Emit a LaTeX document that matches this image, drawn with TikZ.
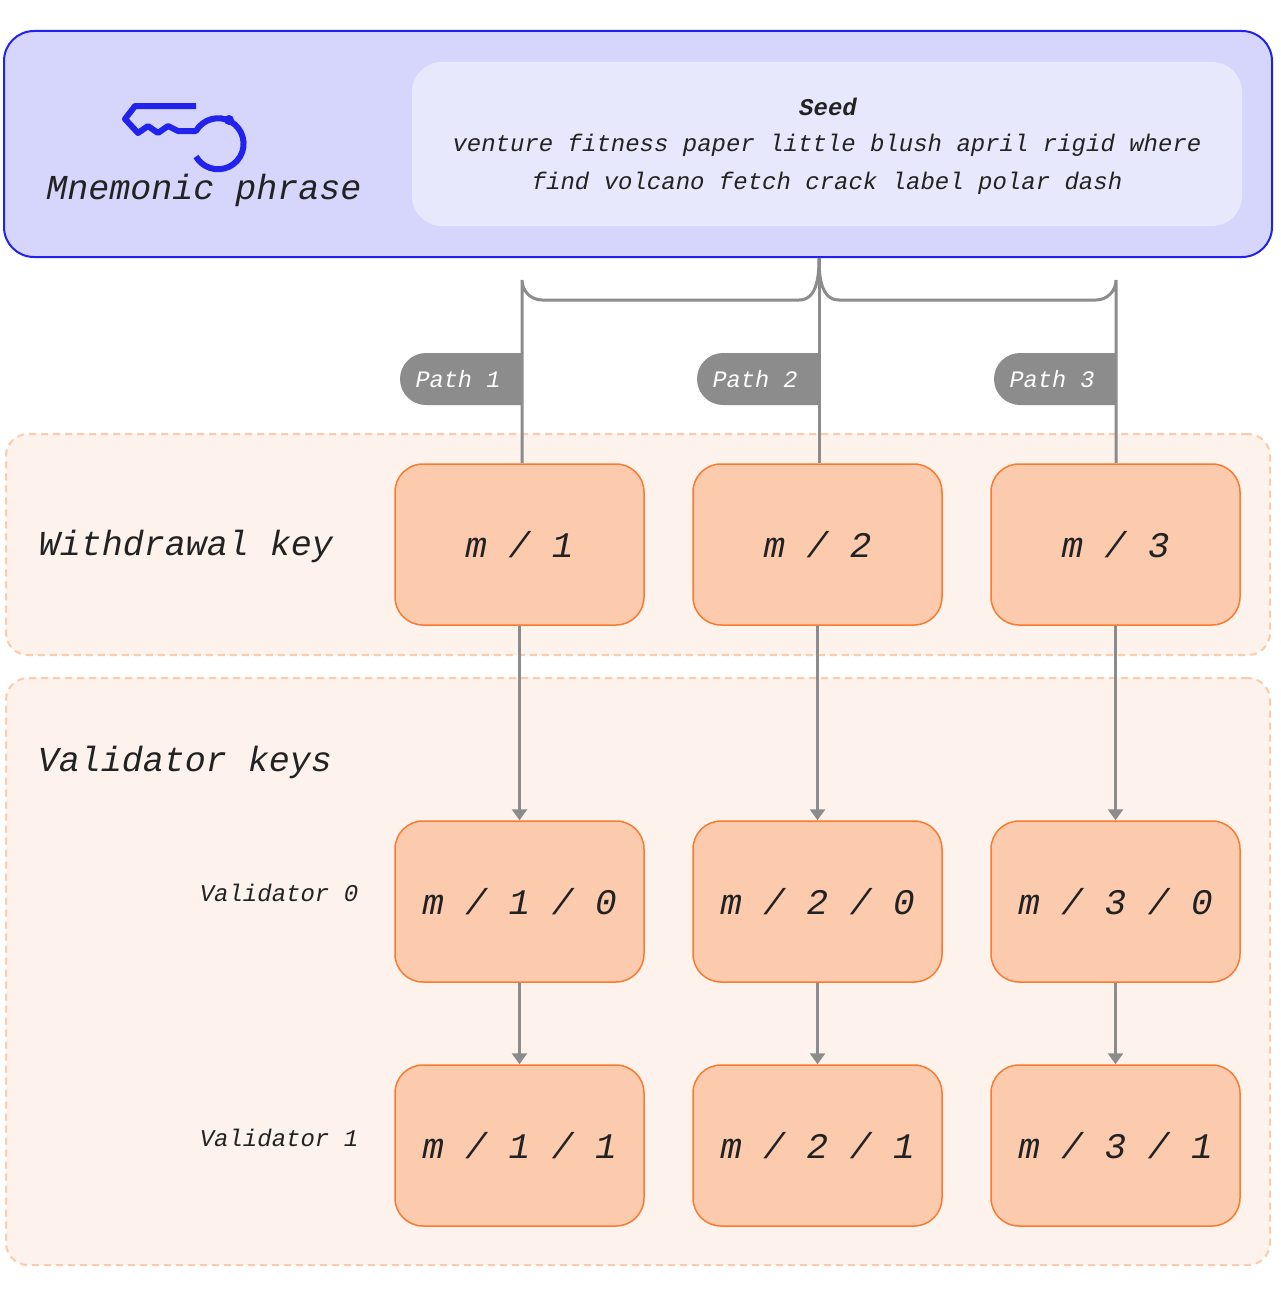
\documentclass[tikz,border=0pt]{standalone}
\usepackage{fontspec}
\setmainfont{Liberation Mono}
\usetikzlibrary{arrows.meta}
\definecolor{topfill}{HTML}{D6D6FC}
\definecolor{topdraw}{HTML}{2222EE}
\definecolor{seedfill}{HTML}{E8E8FC}
\definecolor{bandfill}{HTML}{FDF2EC}
\definecolor{banddraw}{HTML}{FCCBAA}
\definecolor{boxfill}{HTML}{FCCBAE}
\definecolor{boxdraw}{HTML}{F97B2F}
\definecolor{conn}{HTML}{8C8C8C}
\definecolor{txt}{HTML}{222222}
\tikzset{
  keybox/.style={draw=boxdraw,fill=boxfill,line width=1.5pt,rounded corners=28pt,minimum width=249pt,minimum height=161pt,font=\fontsize{36}{40}\selectfont\itshape,text=txt},
  band/.style={draw=banddraw,fill=bandfill,dashed,line width=2pt,dash pattern=on 7pt off 5pt,rounded corners=22pt},
  conline/.style={draw=conn,line width=3pt},
  arr/.style={conline,-{Triangle[length=11pt,width=15pt]}},
  tag/.style={fill=conn,text=white,font=\fontsize{23.6}{26}\selectfont\itshape},
  big/.style={font=\fontsize{35}{40}\selectfont\itshape,text=txt},
  small/.style={font=\fontsize{24}{28}\selectfont\itshape,text=txt},
}
\begin{document}
\begin{tikzpicture}[x=1pt,y=-1pt]
\useasboundingbox (0,0) rectangle (1280,1298);
% top
\node[draw=topdraw,fill=topfill,line width=2pt,rounded corners=30pt,minimum width=1268pt,minimum height=226pt] (top) at (638,144) {};
\node[fill=seedfill,rounded corners=30pt,minimum width=830pt,minimum height=164pt] (seedbox) at (827,144) {};
\node[font=\fontsize{24}{28}\selectfont\bfseries\itshape,text=txt] (seed) at (828,107) {Seed};
\node[small] (l1) at (827,145) {venture fitness paper little blush april rigid where};
\node[small] (l2) at (827,183) {find volcano fetch crack label polar dash};
\node[big] (mn) at (204,190) {Mnemonic phrase};
% key icon
\draw[topdraw,line width=6pt,line join=round] (196,106) -- (135,106) -- (125,119) -- (138,133) -- (148,126) -- (158,133) -- (168,126) -- (178,131) -- (196,131) arc[start angle=-150,end angle=150,radius=25.5];
\fill[topdraw] (229,120) circle (5pt);
% bands
\node[band,minimum width=1264pt,minimum height=221pt] (wband) at (638,544.5) {};
\node[band,minimum width=1264pt,minimum height=587pt] (vband) at (638,971.5) {};
\node[big] (wk) at (186,546) {Withdrawal key};
\node[big] (vk) at (185,762) {Validator keys};
\node[small] (v0) at (279,893) {Validator 0};
\node[small] (v1) at (279,1138) {Validator 1};
% boxes
\foreach \i/\x in {1/519.5,2/817.5,3/1115.5}{
  \node[keybox] (w\i) at (\x,544.5) {m / \i};
  \node[keybox] (a\i) at (\x,901.5) {m / \i{} / 0};
  \node[keybox] (b\i) at (\x,1145.5) {m / \i{} / 1};
  \draw[arr] (w\i.south) -- (a\i.north);
  \draw[arr] (a\i.south) -- (b\i.north);
}
% tags
\foreach \i/\x in {1/522,2/819,3/1116}{
  \fill[conn] (\x,353) -- (\x-96,353) arc[start angle=-90,end angle=-270,radius=26] -- (\x,405) -- cycle;
  \node[tag,fill=none] (t\i) at (\x-64,379) {Path \i};
}
% connectors
\coordinate (src) at (819,258);
\draw[conline] (src) -- (819,463);
\draw[conline] (src) to[out=-90,in=0] (799,300) -- (542,300) arc[start angle=90,end angle=180,radius=20] -- (522,463);
\draw[conline] (src) to[out=-90,in=180] (839,300) -- (1096,300) arc[start angle=90,end angle=0,radius=20] -- (1116,463);
\end{tikzpicture}
\end{document}
